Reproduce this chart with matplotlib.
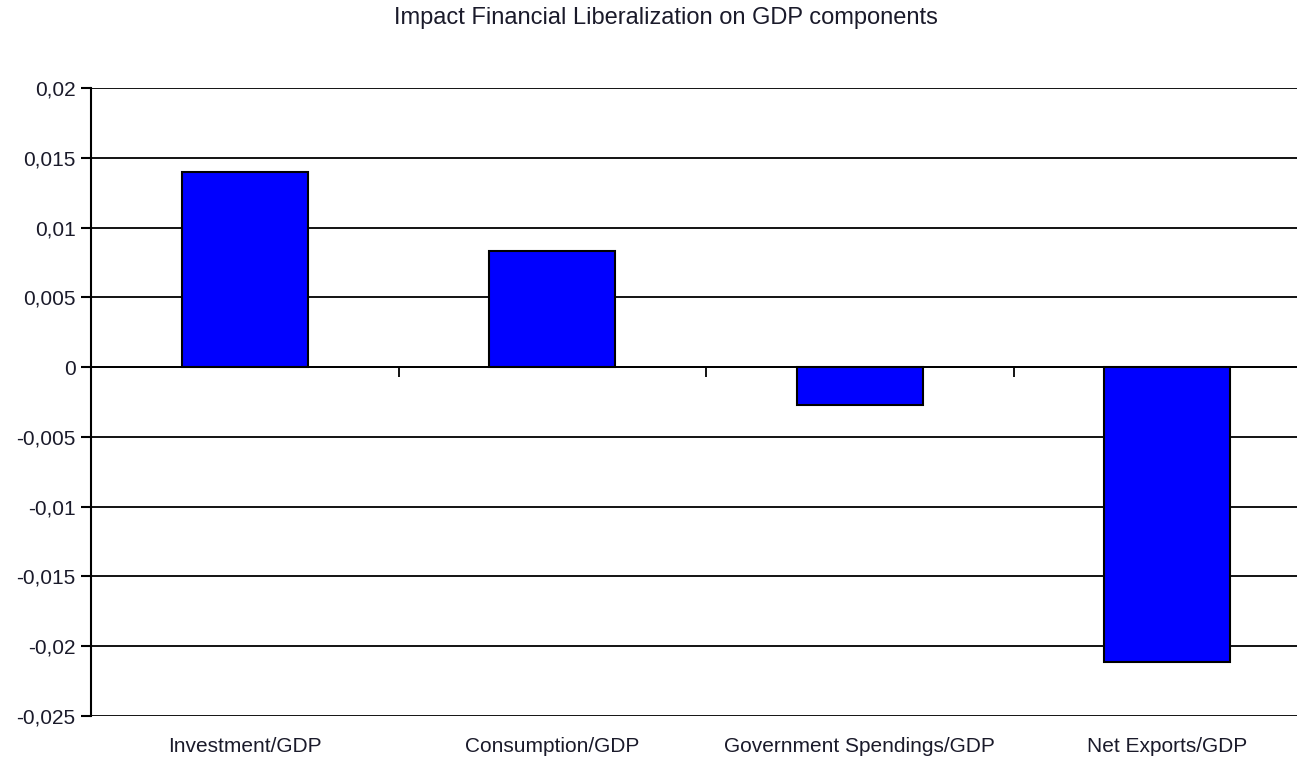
import matplotlib
matplotlib.use("Agg")
import matplotlib.pyplot as plt
from matplotlib.ticker import FuncFormatter

categories = ["Investment/GDP", "Consumption/GDP", "Government Spendings/GDP", "Net Exports/GDP"]
impact = [0.014, 0.0083, -0.0027, -0.0211]
y_ticks = [-0.025, -0.02, -0.015, -0.01, -0.005, 0, 0.005, 0.01, 0.015, 0.02]

plt.rcParams['font.family'] = ['Liberation Sans', 'DejaVu Sans']

fig = plt.figure(figsize=(12.97, 7.61), dpi=100)
# axes run a little past the right edge of the figure
ax = fig.add_axes([91 / 1297, 45 / 761, 1230 / 1297, 628 / 761])

x = list(range(len(categories)))
ax.bar(x, impact, width=0.41, color='#0000ff', edgecolor='black', linewidth=1.5, zorder=3)

ax.set_xlim(-0.5, len(categories) - 0.5)
ax.set_ylim(-0.025, 0.02)
ax.set_yticks(y_ticks)
ax.yaxis.set_major_formatter(FuncFormatter(lambda v, p: ('%g' % v).replace('.', ',') if v != 0 else '0'))
ax.yaxis.grid(True, color='black', linewidth=1.3, zorder=0)

for s in ['top', 'right']:
    ax.spines[s].set_visible(False)
ax.spines['left'].set_linewidth(1.5)
ax.spines['bottom'].set_position(('data', 0))
ax.spines['bottom'].set_linewidth(1.3)
ax.spines['bottom'].set_zorder(4)

# category boundaries get the ticks on the zero line
ax.set_xticks([i + 0.5 for i in x[:-1]])
ax.set_xticklabels([])
ax.tick_params(axis='x', direction='out', length=7, width=1.3)
ax.tick_params(axis='y', direction='out', length=7, width=1.5, labelsize=15, pad=4, labelcolor='#1a1a2a')

for i, name in enumerate(categories):
    ax.text(i, -0.049, name, transform=ax.get_xaxis_transform(), ha='center', va='center',
            fontsize=15, color='#1a1a2a')

fig.text(666 / 1297, 1 - 18 / 761, "Impact Financial Liberalization on GDP components",
         ha='center', va='center', fontsize=17, color='#1a1a2a')

fig.savefig("out.png", dpi=100)
